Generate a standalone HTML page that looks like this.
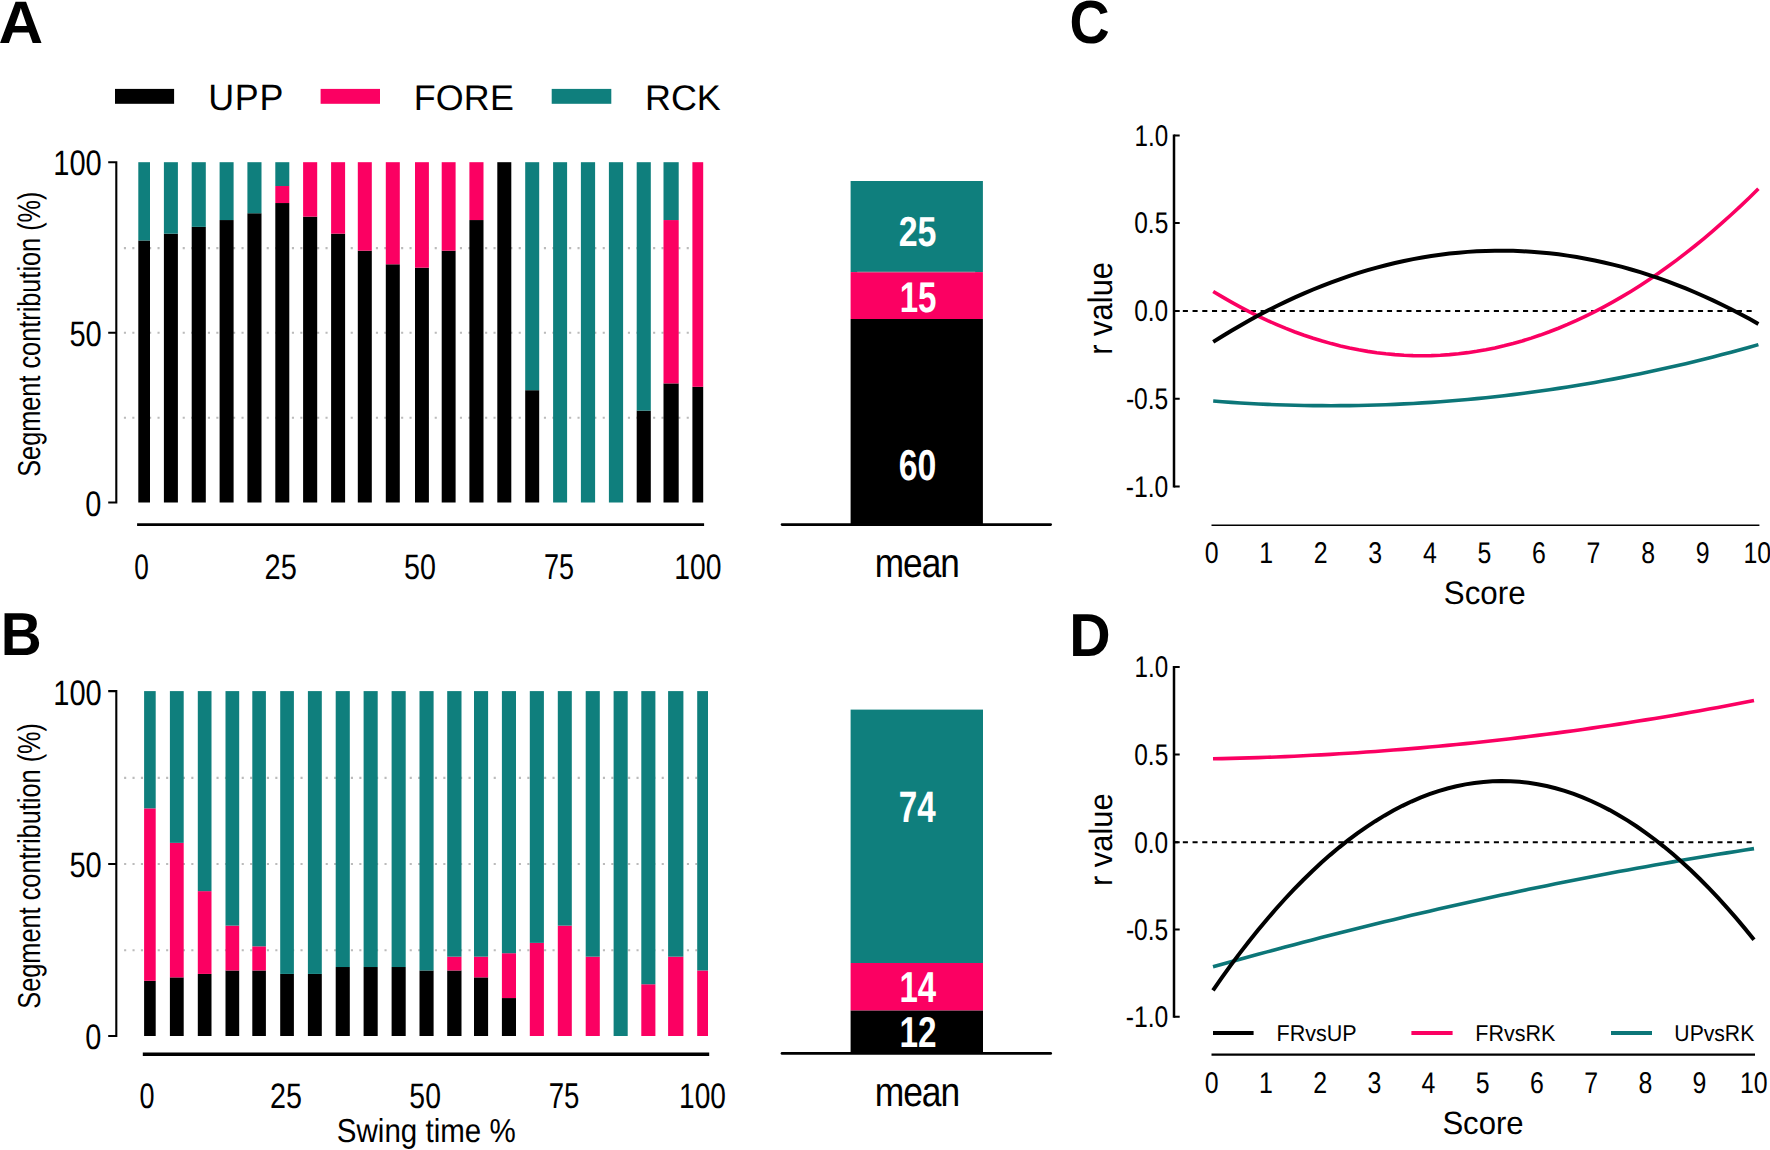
<!DOCTYPE html>
<html><head><meta charset="utf-8"><title>Figure</title>
<style>html,body{margin:0;padding:0;background:#fff}body{width:1770px;height:1150px;overflow:hidden}svg{display:block}</style>
</head><body>
<svg width="1770" height="1150" viewBox="0 0 1770 1150" font-family="'Liberation Sans', Arial, sans-serif" fill="#000" text-rendering="geometricPrecision">
<rect width="1770" height="1150" fill="#fff"/>
<text transform="translate(-1.54 42.65) scale(1.0299 1)" font-size="60" font-weight="bold" fill="#000">A</text>
<text transform="translate(0.77 655.4) scale(0.9329 1)" font-size="60.8" font-weight="bold" fill="#000">B</text>
<text transform="translate(1069.58 42.6) scale(0.9140 1)" font-size="60.8" font-weight="bold" fill="#000">C</text>
<text transform="translate(1069.23 655.6) scale(0.9425 1)" font-size="60.8" font-weight="bold" fill="#000">D</text>
<rect x="115" y="88.9" width="59.1" height="14.9" fill="#000"/>
<rect x="320.6" y="88.9" width="59.4" height="14.9" fill="#fb0062"/>
<rect x="551.7" y="88.9" width="59.6" height="14.9" fill="#0f7f7d"/>
<text transform="translate(208.22 109.93) scale(0.9777 1)" font-size="36.7" letter-spacing="0.73" fill="#000">UPP</text>
<text transform="translate(413.74 109.84) scale(1.0062 1)" font-size="35.62" letter-spacing="0.18" fill="#000">FORE</text>
<text transform="translate(645.04 109.84) scale(1.0075 1)" font-size="35.62" fill="#000">RCK</text>
<line x1="123.9" y1="417.7" x2="692" y2="417.7" stroke="#bbbbbb" stroke-width="2.1" stroke-dasharray="2.1 6.3"/>
<line x1="123.9" y1="332.7" x2="692" y2="332.7" stroke="#bbbbbb" stroke-width="2.1" stroke-dasharray="2.1 6.3"/>
<line x1="123.9" y1="248.1" x2="692" y2="248.1" stroke="#bbbbbb" stroke-width="2.1" stroke-dasharray="2.1 6.3"/>
<rect x="138.3" y="240.47" width="11.7" height="262.03" fill="#000"/>
<rect x="138.3" y="162.2" width="11.7" height="78.27" fill="#0f7f7d"/>
<rect x="163.9" y="233.66" width="14" height="268.84" fill="#000"/>
<rect x="163.9" y="162.2" width="14" height="71.46" fill="#0f7f7d"/>
<rect x="191.7" y="226.86" width="14.1" height="275.64" fill="#000"/>
<rect x="191.7" y="162.2" width="14.1" height="64.66" fill="#0f7f7d"/>
<rect x="219.6" y="220.05" width="14" height="282.45" fill="#000"/>
<rect x="219.6" y="162.2" width="14" height="57.85" fill="#0f7f7d"/>
<rect x="247.4" y="213.25" width="14.1" height="289.25" fill="#000"/>
<rect x="247.4" y="162.2" width="14.1" height="51.05" fill="#0f7f7d"/>
<rect x="275.3" y="203.04" width="14" height="299.46" fill="#000"/>
<rect x="275.3" y="186.02" width="14" height="17.01" fill="#fb0062"/>
<rect x="275.3" y="162.2" width="14" height="23.82" fill="#0f7f7d"/>
<rect x="303.1" y="216.65" width="14.1" height="285.85" fill="#000"/>
<rect x="303.1" y="162.2" width="14.1" height="54.45" fill="#fb0062"/>
<rect x="331.1" y="233.66" width="14" height="268.84" fill="#000"/>
<rect x="331.1" y="162.2" width="14" height="71.46" fill="#fb0062"/>
<rect x="357.8" y="250.68" width="14" height="251.82" fill="#000"/>
<rect x="357.8" y="162.2" width="14" height="88.48" fill="#fb0062"/>
<rect x="385.8" y="264.29" width="14" height="238.21" fill="#000"/>
<rect x="385.8" y="162.2" width="14" height="102.09" fill="#fb0062"/>
<rect x="415" y="267.69" width="13.9" height="234.81" fill="#000"/>
<rect x="415" y="162.2" width="13.9" height="105.49" fill="#fb0062"/>
<rect x="441.7" y="250.68" width="13.9" height="251.82" fill="#000"/>
<rect x="441.7" y="162.2" width="13.9" height="88.48" fill="#fb0062"/>
<rect x="469.4" y="220.05" width="14.1" height="282.45" fill="#000"/>
<rect x="469.4" y="162.2" width="14.1" height="57.85" fill="#fb0062"/>
<rect x="497.3" y="162.2" width="14" height="340.3" fill="#000"/>
<rect x="525.2" y="390.2" width="14" height="112.3" fill="#000"/>
<rect x="525.2" y="162.2" width="14" height="228" fill="#0f7f7d"/>
<rect x="553.1" y="162.2" width="14" height="340.3" fill="#0f7f7d"/>
<rect x="580.9" y="162.2" width="14.2" height="340.3" fill="#0f7f7d"/>
<rect x="608.9" y="162.2" width="14.2" height="340.3" fill="#0f7f7d"/>
<rect x="636.7" y="410.62" width="14.1" height="91.88" fill="#000"/>
<rect x="636.7" y="162.2" width="14.1" height="248.42" fill="#0f7f7d"/>
<rect x="663.5" y="383.39" width="15.2" height="119.11" fill="#000"/>
<rect x="663.5" y="220.05" width="15.2" height="163.34" fill="#fb0062"/>
<rect x="663.5" y="162.2" width="15.2" height="57.85" fill="#0f7f7d"/>
<rect x="692.4" y="386.8" width="10.8" height="115.7" fill="#000"/>
<rect x="692.4" y="162.2" width="10.8" height="224.6" fill="#fb0062"/>
<path d="M108.2 162.2 H116.3 V502.5 H108.2 M108.2 332.8 H116.3" fill="none" stroke="#000" stroke-width="2.1"/>
<line x1="124.1" y1="950.2" x2="697" y2="950.2" stroke="#bbbbbb" stroke-width="2.1" stroke-dasharray="2.1 6.3"/>
<line x1="124.1" y1="864" x2="697" y2="864" stroke="#bbbbbb" stroke-width="2.1" stroke-dasharray="2.1 6.3"/>
<line x1="124.1" y1="777.9" x2="697" y2="777.9" stroke="#bbbbbb" stroke-width="2.1" stroke-dasharray="2.1 6.3"/>
<rect x="144.1" y="980.82" width="11.6" height="55.18" fill="#000"/>
<rect x="144.1" y="808.37" width="11.6" height="172.45" fill="#fb0062"/>
<rect x="144.1" y="691.1" width="11.6" height="117.27" fill="#0f7f7d"/>
<rect x="169.9" y="977.37" width="13.8" height="58.63" fill="#000"/>
<rect x="169.9" y="842.86" width="13.8" height="134.51" fill="#fb0062"/>
<rect x="169.9" y="691.1" width="13.8" height="151.76" fill="#0f7f7d"/>
<rect x="197.8" y="973.92" width="13.7" height="62.08" fill="#000"/>
<rect x="197.8" y="891.14" width="13.7" height="82.78" fill="#fb0062"/>
<rect x="197.8" y="691.1" width="13.7" height="200.04" fill="#0f7f7d"/>
<rect x="225.5" y="970.47" width="13.7" height="65.53" fill="#000"/>
<rect x="225.5" y="925.63" width="13.7" height="44.84" fill="#fb0062"/>
<rect x="225.5" y="691.1" width="13.7" height="234.53" fill="#0f7f7d"/>
<rect x="252.3" y="970.47" width="13.6" height="65.53" fill="#000"/>
<rect x="252.3" y="946.33" width="13.6" height="24.14" fill="#fb0062"/>
<rect x="252.3" y="691.1" width="13.6" height="255.23" fill="#0f7f7d"/>
<rect x="280.2" y="973.92" width="13.7" height="62.08" fill="#000"/>
<rect x="280.2" y="691.1" width="13.7" height="282.82" fill="#0f7f7d"/>
<rect x="307.9" y="973.92" width="13.9" height="62.08" fill="#000"/>
<rect x="307.9" y="691.1" width="13.9" height="282.82" fill="#0f7f7d"/>
<rect x="335.7" y="967.02" width="14.1" height="68.98" fill="#000"/>
<rect x="335.7" y="691.1" width="14.1" height="275.92" fill="#0f7f7d"/>
<rect x="363.6" y="967.02" width="14.1" height="68.98" fill="#000"/>
<rect x="363.6" y="691.1" width="14.1" height="275.92" fill="#0f7f7d"/>
<rect x="391.6" y="967.02" width="14.1" height="68.98" fill="#000"/>
<rect x="391.6" y="691.1" width="14.1" height="275.92" fill="#0f7f7d"/>
<rect x="419.5" y="970.47" width="14.1" height="65.53" fill="#000"/>
<rect x="419.5" y="691.1" width="14.1" height="279.37" fill="#0f7f7d"/>
<rect x="447.2" y="970.47" width="14.3" height="65.53" fill="#000"/>
<rect x="447.2" y="956.67" width="14.3" height="13.8" fill="#fb0062"/>
<rect x="447.2" y="691.1" width="14.3" height="265.57" fill="#0f7f7d"/>
<rect x="474" y="977.37" width="14.1" height="58.63" fill="#000"/>
<rect x="474" y="956.67" width="14.1" height="20.69" fill="#fb0062"/>
<rect x="474" y="691.1" width="14.1" height="265.57" fill="#0f7f7d"/>
<rect x="501.9" y="998.06" width="14.1" height="37.94" fill="#000"/>
<rect x="501.9" y="953.22" width="14.1" height="44.84" fill="#fb0062"/>
<rect x="501.9" y="691.1" width="14.1" height="262.12" fill="#0f7f7d"/>
<rect x="529.8" y="942.88" width="14.1" height="93.12" fill="#fb0062"/>
<rect x="529.8" y="691.1" width="14.1" height="251.78" fill="#0f7f7d"/>
<rect x="557.8" y="925.63" width="14" height="110.37" fill="#fb0062"/>
<rect x="557.8" y="691.1" width="14" height="234.53" fill="#0f7f7d"/>
<rect x="585.7" y="956.67" width="14.1" height="79.33" fill="#fb0062"/>
<rect x="585.7" y="691.1" width="14.1" height="265.57" fill="#0f7f7d"/>
<rect x="613.6" y="691.1" width="14.1" height="344.9" fill="#0f7f7d"/>
<rect x="641.3" y="984.26" width="14.1" height="51.74" fill="#fb0062"/>
<rect x="641.3" y="691.1" width="14.1" height="293.16" fill="#0f7f7d"/>
<rect x="668.1" y="956.67" width="15.3" height="79.33" fill="#fb0062"/>
<rect x="668.1" y="691.1" width="15.3" height="265.57" fill="#0f7f7d"/>
<rect x="697.2" y="970.47" width="10.8" height="65.53" fill="#fb0062"/>
<rect x="697.2" y="691.1" width="10.8" height="279.37" fill="#0f7f7d"/>
<path d="M108.2 691.1 H116.3 V1036 H108.2 M108.2 864 H116.3" fill="none" stroke="#000" stroke-width="2.1"/>
<line x1="137.1" y1="524.6" x2="704.1" y2="524.6" stroke="#000" stroke-width="2.6"/>
<line x1="142.8" y1="1054.3" x2="709.2" y2="1054.3" stroke="#000" stroke-width="3.4"/>
<text transform="translate(53.23 175.35) scale(0.8224 1)" font-size="35.34" fill="#000">100</text>
<text transform="translate(69.44 346.35) scale(0.8223 1)" font-size="35.34" fill="#000">50</text>
<text transform="translate(85.34 515.75) scale(0.8179 1)" font-size="35.34" fill="#000">0</text>
<text transform="translate(53.23 705.35) scale(0.8224 1)" font-size="35.34" fill="#000">100</text>
<text transform="translate(69.44 876.95) scale(0.8223 1)" font-size="35.34" fill="#000">50</text>
<text transform="translate(85.34 1048.55) scale(0.8179 1)" font-size="35.34" fill="#000">0</text>
<text transform="translate(134.25 578.95) scale(0.7408 1)" font-size="35.34" fill="#000">0</text>
<text transform="translate(264.55 578.95) scale(0.8213 1)" font-size="35.34" fill="#000">25</text>
<text transform="translate(404.05 578.95) scale(0.8113 1)" font-size="35.34" fill="#000">50</text>
<text transform="translate(543.98 578.94) scale(0.7541 1)" font-size="35.84" fill="#000">75</text>
<text transform="translate(674.21 578.95) scale(0.8019 1)" font-size="35.34" fill="#000">100</text>
<text transform="translate(139.62 1107.95) scale(0.7645 1)" font-size="35.34" fill="#000">0</text>
<text transform="translate(269.96 1107.95) scale(0.8129 1)" font-size="35.34" fill="#000">25</text>
<text transform="translate(409.36 1107.95) scale(0.8031 1)" font-size="35.34" fill="#000">50</text>
<text transform="translate(548.75 1107.94) scale(0.7705 1)" font-size="35.84" fill="#000">75</text>
<text transform="translate(679.04 1107.95) scale(0.7945 1)" font-size="35.34" fill="#000">100</text>
<text transform="translate(40.3 476.74) rotate(-90) scale(0.8000 1)" font-size="31.6">Segment contribution (%)</text>
<text transform="translate(40.4 1008.74) rotate(-90) scale(0.8017 1)" font-size="31.6">Segment contribution (%)</text>
<text transform="translate(336.87 1142.1) scale(0.8892 1)" font-size="33.2" fill="#000">Swing time %</text>
<rect x="850.6" y="181" width="132.3" height="91.1" fill="#0f7f7d"/>
<rect x="850.6" y="272.1" width="132.3" height="46.9" fill="#fb0062"/>
<rect x="850.6" y="319" width="132.3" height="205.6" fill="#000"/>
<line x1="782" y1="524.6" x2="1050.7" y2="524.6" stroke="#000" stroke-width="2.6" stroke-linecap="round"/>
<rect x="850.6" y="709.6" width="132.4" height="253.4" fill="#0f7f7d"/>
<rect x="850.6" y="963" width="132.4" height="47.6" fill="#fb0062"/>
<rect x="850.6" y="1010.6" width="132.4" height="42.8" fill="#000"/>
<line x1="782" y1="1053.4" x2="1050.7" y2="1053.4" stroke="#000" stroke-width="2.7" stroke-linecap="round"/>
<line x1="857.2" y1="272" x2="975.2" y2="272" stroke="#b09aa2" stroke-width="0.7"/>
<text transform="translate(898.71 246.38) scale(0.8096 1)" font-size="41.98" font-weight="bold" fill="#fff">25</text>
<text transform="translate(899.63 311.77) scale(0.7730 1)" font-size="42.87" font-weight="bold" fill="#fff">15</text>
<text transform="translate(898.73 480.27) scale(0.7815 1)" font-size="43.25" font-weight="bold" fill="#fff">60</text>
<text transform="translate(898.79 822) scale(0.7563 1)" font-size="43.93" font-weight="bold" fill="#fff">74</text>
<text transform="translate(899.44 1002.2) scale(0.7613 1)" font-size="43.35" font-weight="bold" fill="#fff">14</text>
<text transform="translate(899.42 1046.9) scale(0.7728 1)" font-size="43.15" font-weight="bold" fill="#fff">12</text>
<text transform="translate(874.82 576.99) scale(0.8569 1)" font-size="41.1" letter-spacing="-1.23" fill="#000">mean</text>
<text transform="translate(874.71 1105.79) scale(0.8584 1)" font-size="41.28" letter-spacing="-1.24" fill="#000">mean</text>
<path d="M1174 134.4 V487.4" fill="none" stroke="#000" stroke-width="2.5"/>
<path d="M1174 135.4 H1179.7 M1174 223.1 H1179.7 M1174 310.9 H1179.7 M1174 398.7 H1179.7 M1174 486.4 H1179.7" fill="none" stroke="#000" stroke-width="2"/>
<line x1="1173.1" y1="310.9" x2="1753.4" y2="310.9" stroke="#000" stroke-width="2" stroke-dasharray="5.1 4.62"/>
<line x1="1211.5" y1="525.2" x2="1759.4" y2="525.2" stroke="#000" stroke-width="1.45"/>
<text transform="translate(1134.56 145.6) scale(0.8078 1)" font-size="29.96" fill="#000">1.0</text>
<text transform="translate(1134.22 233.3) scale(0.8178 1)" font-size="29.96" fill="#000">0.5</text>
<text transform="translate(1134.22 321.1) scale(0.8162 1)" font-size="29.96" fill="#000">0.0</text>
<text transform="translate(1125.89 408.9) scale(0.8213 1)" font-size="29.96" fill="#000">-0.5</text>
<text transform="translate(1125.69 496.6) scale(0.8241 1)" font-size="29.96" fill="#000">-1.0</text>
<text transform="translate(1211.6 563.4) scale(0.83 1)" font-size="29.96" text-anchor="middle">0</text>
<text transform="translate(1266.16 563.4) scale(0.83 1)" font-size="29.96" text-anchor="middle">1</text>
<text transform="translate(1320.72 563.4) scale(0.83 1)" font-size="29.96" text-anchor="middle">2</text>
<text transform="translate(1375.28 563.4) scale(0.83 1)" font-size="29.96" text-anchor="middle">3</text>
<text transform="translate(1429.84 563.4) scale(0.83 1)" font-size="29.96" text-anchor="middle">4</text>
<text transform="translate(1484.4 563.4) scale(0.83 1)" font-size="29.96" text-anchor="middle">5</text>
<text transform="translate(1538.96 563.4) scale(0.83 1)" font-size="29.96" text-anchor="middle">6</text>
<text transform="translate(1593.52 563.4) scale(0.83 1)" font-size="29.96" text-anchor="middle">7</text>
<text transform="translate(1648.08 563.4) scale(0.83 1)" font-size="29.96" text-anchor="middle">8</text>
<text transform="translate(1702.64 563.4) scale(0.83 1)" font-size="29.96" text-anchor="middle">9</text>
<text transform="translate(1757.2 563.4) scale(0.83 1)" font-size="29.96" text-anchor="middle">10</text>
<text transform="translate(1443.79 603.97) scale(0.9592 1)" font-size="32.65" fill="#000">Score</text>
<text transform="translate(1111.9 354.79) rotate(-90) scale(0.9098 1)" font-size="34">r value</text>
<path d="M1213.2 291.43 L1222.29 296.91 L1231.37 302.14 L1240.46 307.13 L1249.55 311.87 L1258.63 316.37 L1267.72 320.63 L1276.81 324.64 L1285.89 328.41 L1294.98 331.94 L1304.07 335.22 L1313.15 338.26 L1322.24 341.06 L1331.33 343.61 L1340.41 345.92 L1349.5 347.98 L1358.59 349.8 L1367.67 351.38 L1376.76 352.72 L1385.85 353.81 L1394.93 354.65 L1404.02 355.26 L1413.11 355.62 L1422.19 355.73 L1431.28 355.61 L1440.37 355.24 L1449.45 354.62 L1458.54 353.76 L1467.63 352.66 L1476.71 351.32 L1485.8 349.73 L1494.89 347.9 L1503.97 345.82 L1513.06 343.5 L1522.15 340.94 L1531.23 338.13 L1540.32 335.08 L1549.41 331.79 L1558.49 328.25 L1567.58 324.47 L1576.67 320.45 L1585.75 316.18 L1594.84 311.67 L1603.93 306.91 L1613.01 301.91 L1622.1 296.67 L1631.19 291.19 L1640.27 285.46 L1649.36 279.48 L1658.45 273.27 L1667.53 266.81 L1676.62 260.1 L1685.71 253.16 L1694.79 245.97 L1703.88 238.53 L1712.97 230.85 L1722.05 222.93 L1731.14 214.77 L1740.23 206.36 L1749.31 197.71 L1758.4 188.81" fill="none" stroke="#fb0062" stroke-width="3.6"/>
<path d="M1213.2 401.04 L1222.29 401.73 L1231.37 402.36 L1240.46 402.94 L1249.55 403.47 L1258.63 403.94 L1267.72 404.35 L1276.81 404.71 L1285.89 405.01 L1294.98 405.26 L1304.07 405.45 L1313.15 405.59 L1322.24 405.67 L1331.33 405.7 L1340.41 405.67 L1349.5 405.58 L1358.59 405.44 L1367.67 405.25 L1376.76 405 L1385.85 404.69 L1394.93 404.33 L1404.02 403.92 L1413.11 403.45 L1422.19 402.92 L1431.28 402.34 L1440.37 401.7 L1449.45 401.01 L1458.54 400.27 L1467.63 399.46 L1476.71 398.61 L1485.8 397.69 L1494.89 396.72 L1503.97 395.7 L1513.06 394.62 L1522.15 393.49 L1531.23 392.3 L1540.32 391.06 L1549.41 389.76 L1558.49 388.4 L1567.58 386.99 L1576.67 385.52 L1585.75 384 L1594.84 382.43 L1603.93 380.8 L1613.01 379.11 L1622.1 377.37 L1631.19 375.57 L1640.27 373.72 L1649.36 371.81 L1658.45 369.85 L1667.53 367.83 L1676.62 365.76 L1685.71 363.63 L1694.79 361.45 L1703.88 359.21 L1712.97 356.91 L1722.05 354.56 L1731.14 352.16 L1740.23 349.7 L1749.31 347.18 L1758.4 344.61" fill="none" stroke="#0c7678" stroke-width="3.6"/>
<path d="M1213.2 341.88 L1222.29 336.21 L1231.37 330.72 L1240.46 325.41 L1249.55 320.28 L1258.63 315.33 L1267.72 310.57 L1276.81 305.99 L1285.89 301.59 L1294.98 297.38 L1304.07 293.34 L1313.15 289.49 L1322.24 285.82 L1331.33 282.33 L1340.41 279.03 L1349.5 275.9 L1358.59 272.96 L1367.67 270.21 L1376.76 267.63 L1385.85 265.23 L1394.93 263.02 L1404.02 260.99 L1413.11 259.14 L1422.19 257.48 L1431.28 256 L1440.37 254.69 L1449.45 253.58 L1458.54 252.64 L1467.63 251.88 L1476.71 251.31 L1485.8 250.92 L1494.89 250.71 L1503.97 250.69 L1513.06 250.84 L1522.15 251.18 L1531.23 251.7 L1540.32 252.41 L1549.41 253.29 L1558.49 254.36 L1567.58 255.61 L1576.67 257.04 L1585.75 258.66 L1594.84 260.45 L1603.93 262.43 L1613.01 264.59 L1622.1 266.93 L1631.19 269.46 L1640.27 272.17 L1649.36 275.05 L1658.45 278.13 L1667.53 281.38 L1676.62 284.82 L1685.71 288.43 L1694.79 292.23 L1703.88 296.22 L1712.97 300.38 L1722.05 304.73 L1731.14 309.26 L1740.23 313.97 L1749.31 318.86 L1758.4 323.94" fill="none" stroke="#000" stroke-width="4"/>
<path d="M1174 666 V1017.8" fill="none" stroke="#000" stroke-width="2.5"/>
<path d="M1174 667 H1179.7 M1174 754.6 H1179.7 M1174 842.3 H1179.7 M1174 929.6 H1179.7 M1174 1016.8 H1179.7" fill="none" stroke="#000" stroke-width="2"/>
<line x1="1173.1" y1="842.3" x2="1754.2" y2="842.3" stroke="#000" stroke-width="2" stroke-dasharray="5.1 4.62"/>
<line x1="1211.5" y1="1054.6" x2="1755" y2="1054.6" stroke="#000" stroke-width="2.4"/>
<text transform="translate(1134.56 677.2) scale(0.8078 1)" font-size="29.96" fill="#000">1.0</text>
<text transform="translate(1134.22 764.8) scale(0.8178 1)" font-size="29.96" fill="#000">0.5</text>
<text transform="translate(1134.22 852.5) scale(0.8162 1)" font-size="29.96" fill="#000">0.0</text>
<text transform="translate(1125.89 939.8) scale(0.8213 1)" font-size="29.96" fill="#000">-0.5</text>
<text transform="translate(1125.69 1027) scale(0.8241 1)" font-size="29.96" fill="#000">-1.0</text>
<text transform="translate(1211.7 1093.1) scale(0.83 1)" font-size="29.96" text-anchor="middle">0</text>
<text transform="translate(1265.9 1093.1) scale(0.83 1)" font-size="29.96" text-anchor="middle">1</text>
<text transform="translate(1320.1 1093.1) scale(0.83 1)" font-size="29.96" text-anchor="middle">2</text>
<text transform="translate(1374.3 1093.1) scale(0.83 1)" font-size="29.96" text-anchor="middle">3</text>
<text transform="translate(1428.5 1093.1) scale(0.83 1)" font-size="29.96" text-anchor="middle">4</text>
<text transform="translate(1482.7 1093.1) scale(0.83 1)" font-size="29.96" text-anchor="middle">5</text>
<text transform="translate(1536.9 1093.1) scale(0.83 1)" font-size="29.96" text-anchor="middle">6</text>
<text transform="translate(1591.1 1093.1) scale(0.83 1)" font-size="29.96" text-anchor="middle">7</text>
<text transform="translate(1645.3 1093.1) scale(0.83 1)" font-size="29.96" text-anchor="middle">8</text>
<text transform="translate(1699.5 1093.1) scale(0.83 1)" font-size="29.96" text-anchor="middle">9</text>
<text transform="translate(1753.7 1093.1) scale(0.83 1)" font-size="29.96" text-anchor="middle">10</text>
<text transform="translate(1442.4 1133.68) scale(0.9644 1)" font-size="32.23" fill="#000">Score</text>
<text transform="translate(1111.9 886.09) rotate(-90) scale(0.9548 1)" font-size="32.4">r value</text>
<path d="M1213 758.76 L1222.02 758.58 L1231.03 758.38 L1240.05 758.14 L1249.07 757.89 L1258.08 757.6 L1267.1 757.29 L1276.12 756.95 L1285.13 756.58 L1294.15 756.19 L1303.17 755.77 L1312.18 755.32 L1321.2 754.84 L1330.22 754.34 L1339.23 753.81 L1348.25 753.26 L1357.27 752.68 L1366.28 752.07 L1375.3 751.43 L1384.32 750.77 L1393.33 750.08 L1402.35 749.37 L1411.37 748.63 L1420.38 747.86 L1429.4 747.06 L1438.42 746.24 L1447.43 745.39 L1456.45 744.51 L1465.47 743.61 L1474.48 742.68 L1483.5 741.72 L1492.52 740.74 L1501.53 739.72 L1510.55 738.69 L1519.57 737.62 L1528.58 736.53 L1537.6 735.41 L1546.62 734.27 L1555.63 733.1 L1564.65 731.9 L1573.67 730.67 L1582.68 729.42 L1591.7 728.14 L1600.72 726.83 L1609.73 725.5 L1618.75 724.14 L1627.77 722.75 L1636.78 721.34 L1645.8 719.9 L1654.82 718.43 L1663.83 716.94 L1672.85 715.42 L1681.87 713.87 L1690.88 712.3 L1699.9 710.69 L1708.92 709.07 L1717.93 707.41 L1726.95 705.73 L1735.97 704.02 L1744.98 702.29 L1754 700.52" fill="none" stroke="#fb0062" stroke-width="3.6"/>
<path d="M1213 966.85 L1222.02 964.3 L1231.03 961.78 L1240.05 959.27 L1249.07 956.79 L1258.08 954.32 L1267.1 951.87 L1276.12 949.45 L1285.13 947.04 L1294.15 944.65 L1303.17 942.28 L1312.18 939.93 L1321.2 937.6 L1330.22 935.29 L1339.23 933 L1348.25 930.72 L1357.27 928.47 L1366.28 926.24 L1375.3 924.02 L1384.32 921.83 L1393.33 919.65 L1402.35 917.5 L1411.37 915.36 L1420.38 913.25 L1429.4 911.15 L1438.42 909.07 L1447.43 907.01 L1456.45 904.97 L1465.47 902.95 L1474.48 900.95 L1483.5 898.97 L1492.52 897.01 L1501.53 895.07 L1510.55 893.15 L1519.57 891.25 L1528.58 889.36 L1537.6 887.5 L1546.62 885.65 L1555.63 883.83 L1564.65 882.02 L1573.67 880.24 L1582.68 878.47 L1591.7 876.72 L1600.72 875 L1609.73 873.29 L1618.75 871.6 L1627.77 869.93 L1636.78 868.28 L1645.8 866.65 L1654.82 865.04 L1663.83 863.45 L1672.85 861.87 L1681.87 860.32 L1690.88 858.79 L1699.9 857.27 L1708.92 855.78 L1717.93 854.3 L1726.95 852.85 L1735.97 851.41 L1744.98 850 L1754 848.6" fill="none" stroke="#0c7678" stroke-width="3.6"/>
<path d="M1213 990.28 L1222.02 977.41 L1231.03 964.94 L1240.05 952.89 L1249.07 941.25 L1258.08 930.02 L1267.1 919.19 L1276.12 908.78 L1285.13 898.77 L1294.15 889.17 L1303.17 879.98 L1312.18 871.2 L1321.2 862.83 L1330.22 854.87 L1339.23 847.31 L1348.25 840.16 L1357.27 833.42 L1366.28 827.09 L1375.3 821.17 L1384.32 815.66 L1393.33 810.55 L1402.35 805.85 L1411.37 801.56 L1420.38 797.67 L1429.4 794.2 L1438.42 791.13 L1447.43 788.47 L1456.45 786.21 L1465.47 784.37 L1474.48 782.93 L1483.5 781.89 L1492.52 781.27 L1501.53 781.05 L1510.55 781.23 L1519.57 781.83 L1528.58 782.83 L1537.6 784.24 L1546.62 786.05 L1555.63 788.27 L1564.65 790.89 L1573.67 793.93 L1582.68 797.36 L1591.7 801.21 L1600.72 805.46 L1609.73 810.11 L1618.75 815.18 L1627.77 820.64 L1636.78 826.52 L1645.8 832.79 L1654.82 839.48 L1663.83 846.57 L1672.85 854.06 L1681.87 861.96 L1690.88 870.26 L1699.9 878.97 L1708.92 888.09 L1717.93 897.61 L1726.95 907.53 L1735.97 917.86 L1744.98 928.59 L1754 939.73" fill="none" stroke="#000" stroke-width="4"/>
<line x1="1213" y1="1033" x2="1253.6" y2="1033" stroke="#000" stroke-width="4.1"/>
<line x1="1411.4" y1="1033" x2="1452.6" y2="1033" stroke="#fb0062" stroke-width="3.9"/>
<line x1="1611" y1="1033" x2="1652" y2="1033" stroke="#0c7678" stroke-width="3.9"/>
<text transform="translate(1276.52 1041.17) scale(0.9440 1)" font-size="22.8" fill="#000">FRvsUP</text>
<text transform="translate(1475.33 1041.17) scale(0.9421 1)" font-size="22.8" fill="#000">FRvsRK</text>
<text transform="translate(1674.36 1041.17) scale(0.9273 1)" font-size="22.8" fill="#000">UPvsRK</text>
</svg>
</body></html>
